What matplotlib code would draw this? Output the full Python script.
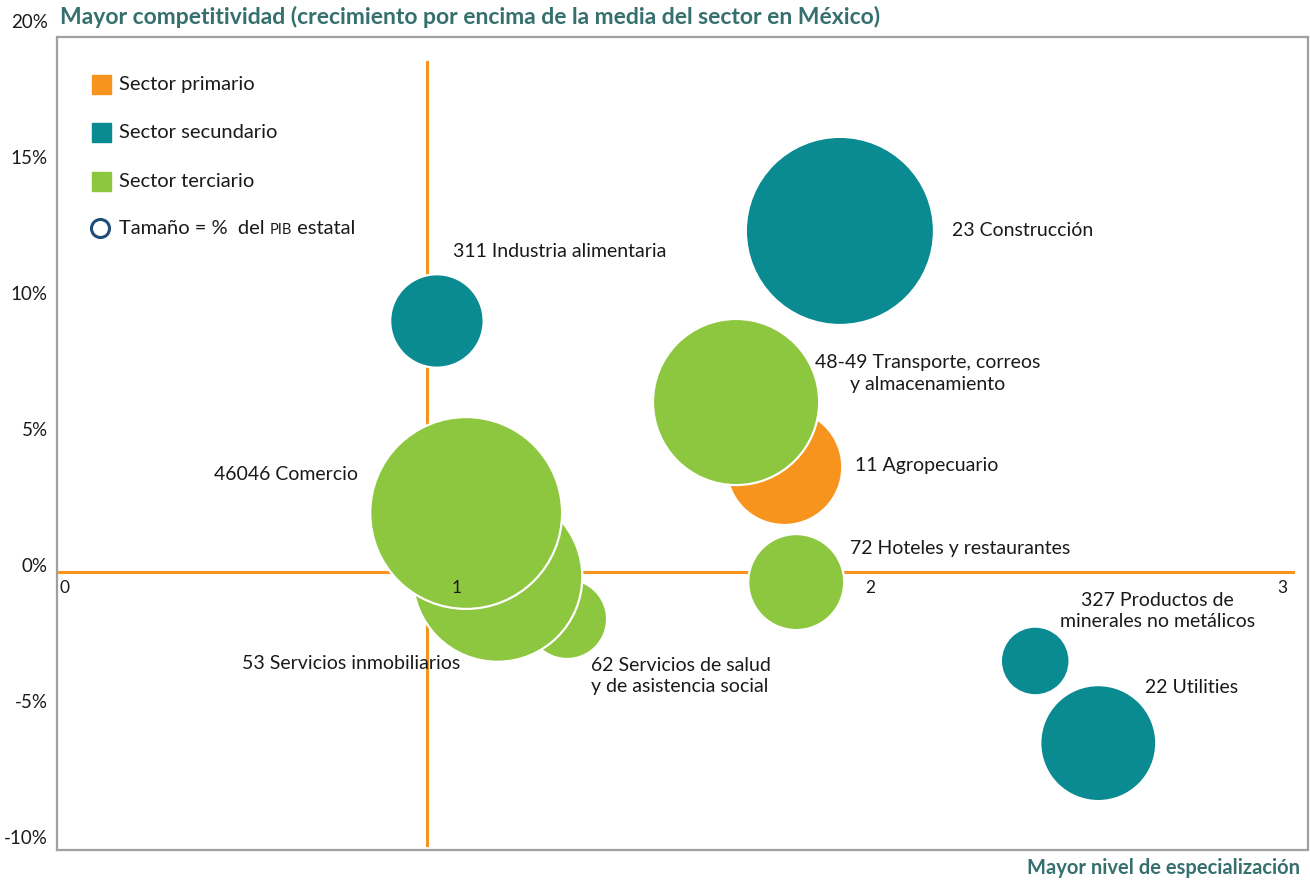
import matplotlib.pyplot as plt
from matplotlib.patches import Rectangle

plt.rcParams['font.family'] = ['Lato', 'DejaVu Sans']

# data
sectores = ['311 Industria alimentaria', '23 Construcción', '11 Agropecuario',
            '48-49 Transporte, correos\ny almacenamiento', '72 Hoteles y restaurantes',
            '62 Servicios de salud\ny de asistencia social', '53 Servicios inmobiliarios',
            '46046 Comercio', '327 Productos de\nminerales no metálicos', '22 Utilities']
tipo = ['secundario', 'secundario', 'primario', 'terciario', 'terciario',
        'terciario', 'terciario', 'terciario', 'secundario', 'secundario']
especializacion = [1.024, 2.002, 1.867, 1.750, 1.896, 1.340, 1.171, 1.095, 2.476, 2.629]
crecimiento = [9.23, 12.54, 3.86, 6.25, -0.37, -1.73, -0.18, 2.17, -3.27, -6.29]
pib = [3.7, 15.0, 5.7, 11.7, 3.9, 2.7, 12.2, 15.6, 2.0, 5.7]

xticks = ['0', '1', '2', '3']
yticks = [-10, -5, 0, 5, 10, 15, 20]

colores = {'primario': '#F7941D', 'secundario': '#0A8A91', 'terciario': '#8DC63F'}
texto = '#1a1a1a'
titulo_col = '#36706E'

# label anchors (x, y, ha)
etiquetas = [(1.063, 11.80, 'left'), (2.274, 12.57, 'left'), (2.039, 3.93, 'left'),
             (2.214, 7.30, 'center'), (2.027, 0.85, 'left'), (1.398, -3.82, 'left'),
             (1.080, -3.35, 'right'), (0.833, 3.57, 'right'), (2.772, -1.42, 'center'),
             (2.743, -4.26, 'left')]

fig = plt.figure(figsize=(13.1, 8.81), dpi=100)
ax = fig.add_axes([57/1310, 1 - 850/881, 1251/1310, 813/881])
ax.set_xlim(0.102, 3.138)
ax.set_ylim(-10.22, 19.67)
ax.set_xticks([])
ax.set_yticks([])
for s in ax.spines.values():
    s.set_color('#A0A0A0')
    s.set_linewidth(1.6)

# reference lines
ax.plot([1, 1], [-10.04, 18.75], color='#F7941D', lw=2.2, zorder=1)
ax.plot([0.102, 3.102], [0, 0], color='#F7941D', lw=2.2, zorder=1)

# bubbles
ax.scatter(especializacion, crecimiento, s=[p * 1223 for p in pib],
           c=[colores[t] for t in tipo], edgecolors='white', linewidths=1.6, zorder=2)

for nombre, (lx, ly, ha) in zip(sectores, etiquetas):
    ax.text(lx, ly, nombre, ha=ha, va='center', fontsize=14, color=texto,
            linespacing=1.3, multialignment=ha, zorder=3)

# tick labels
for lab, px in zip(xticks, [65, 457, 870, 1282]):
    ax.text(1 + (px - 427) / 412, -0.59, lab, ha='center', va='center',
            fontsize=12.5, color=texto, zorder=3)
for v in yticks:
    ax.text(0.080, v + 0.22, f'{v}%', ha='right', va='center', fontsize=13.5,
            color=texto, clip_on=False)

# legend
filas = [0.941, 0.882, 0.822, 0.764]
nombres_leg = ['Sector primario', 'Sector secundario', 'Sector terciario']
for y, nom, t in zip(filas, nombres_leg, ['primario', 'secundario', 'terciario']):
    ax.add_patch(Rectangle((0.028, y - 0.0117), 0.0152, 0.0234, transform=ax.transAxes,
                           color=colores[t], zorder=3))
    ax.text(0.0496, y, nom, transform=ax.transAxes, ha='left', va='center',
            fontsize=14.5, color=texto)
ax.plot([0.0344], [filas[3] + 0.001], marker='o', markersize=13, markerfacecolor='white',
        markeredgecolor='#1F4E79', markeredgewidth=2.2, transform=ax.transAxes, zorder=3)
t1 = ax.text(0.0496, filas[3], 'Tamaño = %  del ', transform=ax.transAxes, ha='left',
             va='center', fontsize=14.5, color=texto)
t2 = ax.annotate('PIB', xy=(1, 0), xycoords=t1, ha='left', va='bottom', fontsize=10.5,
                 color=texto)
ax.annotate(' estatal', xy=(1, 0), xycoords=t2, ha='left', va='bottom', fontsize=14.5,
            color=texto)

fig.text(60/1310, 1 - 17/881, 'Mayor competitividad (crecimiento por encima de la media del sector en México)',
         ha='left', va='center', fontsize=16.5, fontweight='bold', color=titulo_col)
fig.text(1300/1310, 1 - 868/881, 'Mayor nivel de especialización', ha='right', va='center',
         fontsize=14.5, fontweight='bold', color=titulo_col)

fig.savefig('out.png', dpi=100)
